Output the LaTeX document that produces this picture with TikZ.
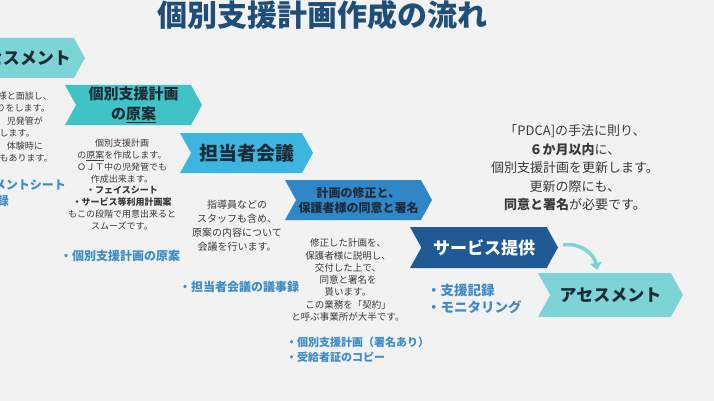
\documentclass[tikz,border=0pt]{standalone}
\usepackage{fontspec}
\setmainfont{Noto Sans CJK JP}
\usetikzlibrary{arrows.meta, shapes.symbols}
\definecolor{bgc}{HTML}{F2F2F2}
\definecolor{titleblue}{HTML}{1F4E79}
\definecolor{stepA}{HTML}{7DD4D6}
\definecolor{stepB}{HTML}{3FC3C6}
\definecolor{stepC}{HTML}{3CB6E0}
\definecolor{stepD}{HTML}{2F87C8}
\definecolor{stepE}{HTML}{1F5A95}
\definecolor{ink}{HTML}{1E2A35}
\definecolor{bodygray}{HTML}{3A3A3A}
\definecolor{itemblue}{HTML}{3C8CC8}
\newcommand{\fsz}[2]{\fontsize{#1}{#2}\selectfont}
\newcommand{\gapr}[1]{\hbox to #1{}}

\begin{document}
\begin{tikzpicture}[
	x=1pt, y=-1pt,
	chev/.style={signal, signal from=west, signal to=east, signal pointer angle=122, inner sep=0pt, minimum height=40pt, align=center, text=ink},
	note/.style={align=center, text=bodygray, inner sep=0pt},
	item/.style={align=left, text=itemblue, inner sep=0pt, anchor=west},
	flow/.style={-{Triangle[length=7pt, width=12pt]}, line width=3.5pt, stepA}
]
\useasboundingbox (0,0) rectangle (714,401);
\clip (0,0) rectangle (714,401);
\fill[bgc] (0,0) rectangle (714,401);

\node[text=titleblue, font=\bfseries\fsz{30}{30}, inner sep=0pt] (title) at (322.5,15) {個別支援計画作成の流れ};

\node[chev, fill=stepA, minimum width=113pt, font=\bfseries\fsz{17}{20}] (asA) at (28.5,58) {セスメント};
\node[chev, fill=stepB, minimum width=137pt, font=\bfseries\fsz{15}{20}] (plan) at (133.5,105) {個別支援計画\\の\underline{原案}};
\node[chev, fill=stepC, minimum width=133pt, font=\bfseries\fsz{19}{20}] (meet) at (246.5,153) {担当者会議};
\node[chev, fill=stepD, minimum width=147pt, font=\bfseries\fsz{12}{15}] (agree) at (358.5,200) {計画の修正と、\\保護者様の同意と署名};
\node[chev, fill=stepE, minimum width=148pt, minimum height=41pt, text=white, font=\bfseries\fsz{17}{20}] (svc) at (484,247.5) {サービス提供};
\node[chev, fill=stepA, minimum width=145pt, minimum height=44pt, font=\bfseries\fsz{17}{20}] (asB) at (610.5,295) {アセスメント};

\draw[flow] ([xshift=5pt, yshift=2.5pt]svc.east) to[out=10, in=100] ([xshift=-13.5pt, yshift=3pt]asB.north);

\node[note, align=right, anchor=east, font=\fsz{9}{12.4}] (hearing) at (53,127) {様と面談し、\gapr{1pt}\\りをします。\gapr{3pt}\\児発管が\gapr{10pt}\\します。\gapr{18pt}\\体験時に\gapr{10pt}\\もあります。};
\node[note, font=\fsz{9}{11.9}] (draft) at (122,184.5) {個別支援計画\\の\underline{原案}を作成します。\\ＯＪＴ中の児発管でも\\作成出来ます。\\\textbf{・フェイスシート}\\\textbf{・サービス等利用計画案}\\もこの段階で用意出来ると\\スムーズです。};
\node[note, font=\fsz{10}{14}] (talk) at (237,226) {指導員などの\\スタッフも含め、\\原案の内容について\\会議を行います。};
\node[note, font=\fsz{9.5}{12.3}] (sign) at (348,280) {修正した計画を、\\保護者様に説明し、\\交付した上で、\\同意と署名を\\貰います。\\この業務を「契約」\\と呼ぶ事業所が大半です。};
\node[note, font=\fsz{13}{18.5}] (pdca) at (575,168) {「PDCA]の手法に則り、\\\textbf{６か月以内}に、\\個別支援計画を更新します。\\更新の際にも、\\\textbf{同意と署名}が必要です。};

\node[item, anchor=east, font=\bfseries\fsz{12}{15}] (sheet) at (66,185) {メントシート};
\node[item, anchor=east, font=\bfseries\fsz{12}{15}] (record) at (9,201) {録};
\node[item, font=\bfseries\fsz{12}{15}] (draftdoc) at (60,256) {・個別支援計画の原案};
\node[item, font=\bfseries\fsz{12}{15}] (minutes) at (179,287) {・担当者会議の議事録};
\node[item, font=\bfseries\fsz{11}{15}] (signdoc) at (286,349.5) {・個別支援計画（署名あり）\\・受給者証のコピー};
\node[item, font=\bfseries\fsz{13.5}{17}] (svcdoc) at (427,298.5) {・支援記録\\・モニタリング};
\end{tikzpicture}
\end{document}
